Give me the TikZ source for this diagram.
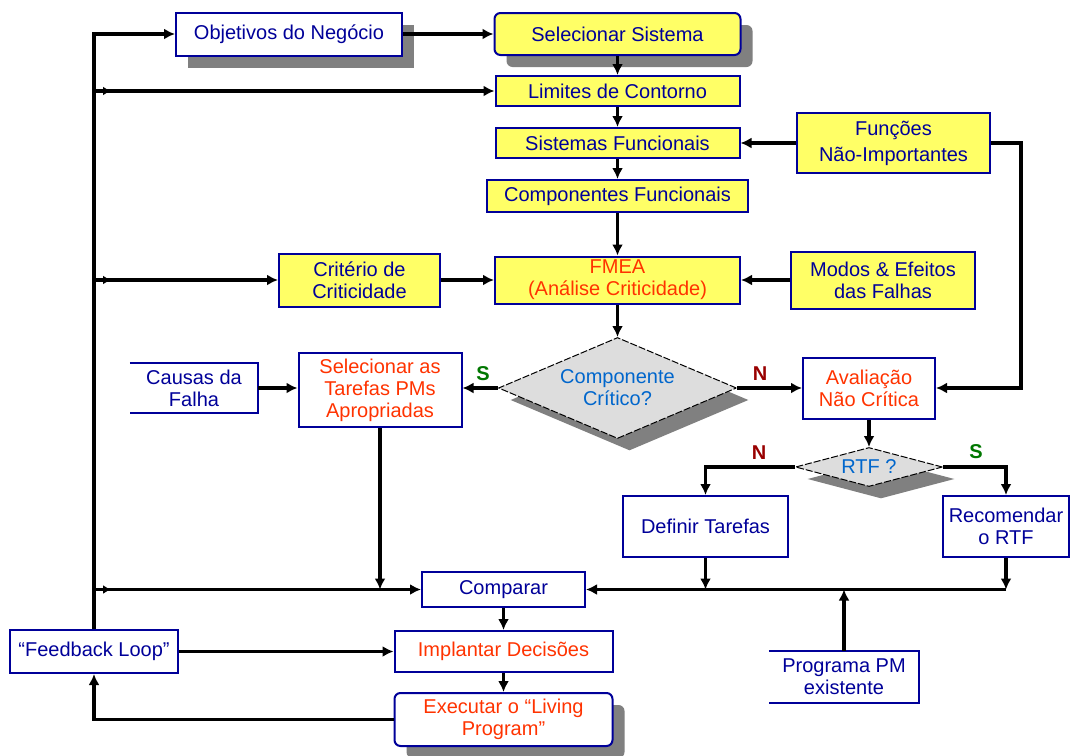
\documentclass[tikz,border=0pt]{standalone}
\usepackage{fontspec}
\setmainfont{Liberation Sans}
\usetikzlibrary{arrows.meta,shapes.geometric,decorations.markings}
\definecolor{navy}{HTML}{000099}
\definecolor{boxyellow}{HTML}{FFFF66}
\definecolor{redtxt}{HTML}{FF3300}
\definecolor{bluetxt}{HTML}{0066CC}
\definecolor{shade}{HTML}{808080}
\definecolor{dgray}{HTML}{DDDDDD}
\definecolor{sgreen}{HTML}{007700}
\definecolor{nred}{HTML}{990000}
\begin{document}
\begin{tikzpicture}[x=1pt,y=-1pt,
 txt/.style={font=\fontsize{20}{22}\selectfont},
 box/.style={txt,draw=navy,line width=2pt,fill=white,text=navy,inner sep=0pt,align=center},
 openbox/.style={txt,fill=white,text=navy,inner sep=0pt,align=center},
 ybox/.style={box,fill=boxyellow},
 redt/.style={text=redtxt},
 shadowed/.style={preaction={fill=shade,transform canvas={shift={(12pt,-12pt)}}}},
 diam/.style={txt,diamond,draw=black,line width=1pt,dash pattern=on 7pt off 2pt,fill=dgray,text=bluetxt,inner sep=0pt,align=center,
   preaction={fill=shade,transform canvas={shift={(12pt,-12pt)}}}},
 lbl/.style={font=\fontsize{20}{22}\selectfont\bfseries},
 arr/.style={line width=3.4pt,-{Latex[length=11pt,width=11pt]}},
 midarr/.style={postaction={decorate,decoration={markings,mark=at position 17pt with {\arrow{Latex[length=8pt,width=9pt]}}}}}
]
\useasboundingbox (0,0) rectangle (1073,755);
\fill[white] (0,0) rectangle (1073,755);

% nodes
\node[box,shadowed,minimum width=226,minimum height=43] (obj) at (289,34) {Objetivos do Negócio};
\node[ybox,shadowed,rounded corners=6pt,minimum width=246,minimum height=42] (sel) at (617.5,34) {Selecionar Sistema};
\node[ybox,minimum width=244,minimum height=30] (lim) at (617.5,91) {Limites de Contorno};
\node[ybox,minimum width=244,minimum height=30] (sisf) at (617.5,143) {Sistemas Funcionais};
\node[ybox,minimum width=261,minimum height=32] (comp) at (617.5,196) {Componentes Funcionais};
\node[ybox,minimum width=193,minimum height=60,font=\fontsize{20}{26}\selectfont] (func) at (893.5,143) {Funções\\Não-Importantes};
\node[ybox,minimum width=161,minimum height=53] (crit) at (359.5,280) {Critério de\\Criticidade};
\node[ybox,redt,minimum width=245,minimum height=47] (fmea) at (617.5,280) {FMEA\\(Análise Criticidade)};
\node[ybox,minimum width=184,minimum height=57] (modos) at (883,280) {Modos \& Efeitos\\das Falhas};
\node[diam,aspect=2.4,minimum width=238,minimum height=101] (d1) at (617.5,388) {Componente\\Crítico?};
\node[box,redt,minimum width=163,minimum height=74] (seltar) at (380,390) {Selecionar as\\Tarefas PMs\\Apropriadas};
\node[openbox,minimum width=128,minimum height=50] (causas) at (194,388) {Causas da\\Falha};
\draw[navy,line width=2pt] (causas.north west) -- (causas.north east) -- (causas.south east) -- (causas.south west);
\node[box,redt,minimum width=132,minimum height=61] (aval) at (869,388) {Avaliação\\Não Crítica};
\node[diam,aspect=3.8,minimum width=147,minimum height=39] (rtf) at (869,467) {RTF ?};
\node[box,minimum width=165,minimum height=61] (def) at (705.5,526.5) {Definir Tarefas};
\node[box,minimum width=126,minimum height=61] (rec) at (1006,526.5) {Recomendar\\o RTF};
\node[box,minimum width=163,minimum height=35] (compar) at (503.5,589.5) {Comparar};
\node[openbox,minimum width=150,minimum height=52] (prog) at (844,677) {Programa PM\\existente};
\draw[navy,line width=2pt] (prog.north west) -- (prog.north east) -- (prog.south east) -- (prog.south west);
\node[box,redt,minimum width=218,minimum height=41] (impl) at (503.5,651.5) {Implantar Decisões};
\node[box,redt,shadowed,rounded corners=6pt,minimum width=218,minimum height=53] (exec) at (503.5,719.5) {Executar o “Living\\Program”};
\node[box,minimum width=168,minimum height=43] (fb) at (94,651.5) {“Feedback Loop”};

% labels
\node[lbl,text=sgreen] (s1) at (483,374) {S};
\node[lbl,text=nred] (n1) at (760,374) {N};
\node[lbl,text=nred] (n2) at (759,453) {N};
\node[lbl,text=sgreen] (s2) at (976,452) {S};

% connectors
\draw[arr] (fb.north) |- (obj.west);
\draw[arr,midarr] (fb.north |- lim.west) -- (lim.west);
\draw[arr,midarr] (fb.north |- crit.west) -- (crit.west);
\draw[arr,midarr] (fb.north |- compar.west) -- (compar.west);
\draw[arr] (obj.east) -- (sel.west);
\draw[arr] (sel) -- (lim);
\draw[arr] (lim) -- (sisf);
\draw[arr] (sisf) -- (comp);
\draw[arr] (comp.south) -- (fmea.north);
\draw[arr] (fmea.south) -- (d1.north);
\draw[arr] (func.west) -- (sisf.east);
\draw[arr] (func.east) -- ++(30,0) |- (aval.east);
\draw[arr] (crit.east) -- (fmea.west);
\draw[arr] (modos.west) -- (fmea.east);
\draw[arr] (d1.west) -- (d1.west -| seltar.east);
\draw[arr] (d1.east) -- (aval.west);
\draw[arr] (causas.east) -- (causas.east -| seltar.west);
\draw[arr] (seltar.south) -- (seltar.south |- compar.west);
\draw[arr] (aval.south) -- (rtf.north);
\draw[arr] (rtf.west) -| (def.north);
\draw[arr] (rtf.east) -| (rec.north);
\draw[arr] (def.south) -- (def.south |- compar.east);
\draw[arr] (rec.south) -- (rec.south |- compar.east);
\draw[arr] (rec.south |- compar.east) -- (compar.east);
\draw[arr] (prog.north) -- (prog.north |- compar.east);
\draw[arr] (compar.south) -- (impl.north);
\draw[arr] (impl.south) -- (exec.north);
\draw[arr] (fb.east) -- (impl.west);
\draw[arr] (exec.west) -| (fb.south);
\end{tikzpicture}
\end{document}
